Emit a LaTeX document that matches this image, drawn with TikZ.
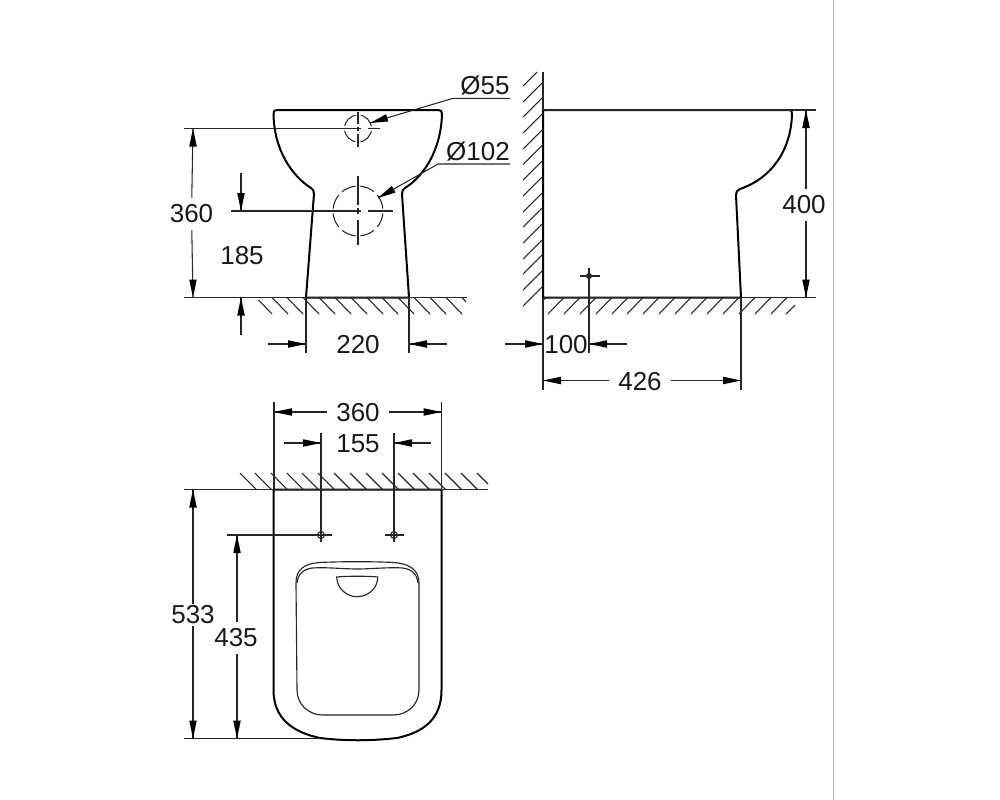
\documentclass[tikz,border=0pt]{standalone}
\usepackage{fontspec}
\setmainfont{Liberation Sans}
\tikzset{
  outline/.style={line width=1.5pt,line join=round},
  thinline/.style={line width=0.8pt,color=black!85},
  seatline/.style={line width=0.85pt,color=black!85},
  hatchline/.style={line width=0.8pt,color=black!85},
  dimtext/.style={font=\fontsize{19.5}{20}\selectfont,inner xsep=7pt,inner ysep=5pt,text=black!90},
  dimtip/.pic={\fill [black] (18,-3.8) -- (0,0) -- (18,3.8) -- cycle ;},
}
\begin{document}
\begin{tikzpicture}[x=0.75pt,y=0.75pt,yscale=-1,xscale=1]
\useasboundingbox (0,0) rectangle (1000,800);

%Page edge
\draw [color=black!30,line width=0.75pt] (833,0) -- (833,800) ;

%Front view
\draw [outline] (277,110) -- (438,110) .. controls (441,110) and (442,111) .. (442,114) .. controls (441,150) and (424,176) .. (405,188) .. controls (403,189) and (402,191) .. (402,194) -- (409,297.5) -- (306,297.5) -- (314,194) .. controls (314,191) and (313,189) .. (311,188) .. controls (292,176) and (274,150) .. (273.5,114) .. controls (273.5,111) and (274,110) .. (277,110) -- cycle ;
%Front view, drain circles
\draw [thinline,dash pattern=on 12pt off 3.9pt,dash phase=13.95pt] (358,128.5) circle (13.5) ;
\draw [thinline,dash pattern=on 11pt off 3.7pt,dash phase=12.85pt] (358,211) circle (25) ;
%Centre lines
\draw [thinline] (358,112) -- (358,124) (358,127) -- (358,131) (358,134) -- (358,147) ;
\draw [thinline] (358,176) -- (358,205) (358,208) -- (358,214) (358,220) -- (358,245) ;
\draw [thinline] (184,128.5) -- (361,128.5) (368,128.5) -- (380,128.5) ;
\draw [thinline] (231,211) -- (361,211) (368,211) -- (393,211) ;
%Front floor
\draw [thinline] (184,297.5) -- (467,297.5) ;
\draw [hatchline] (258.5,300) -- (272,314) (272,297.5) -- (288,314) (287,297.5) -- (303,314) (303,297.5) -- (319,314) (319,297.5) -- (335,314) (335,297.5) -- (351,314) (351,297.5) -- (367,314) (367,297.5) -- (383,314) (382,297.5) -- (398,314) (398,297.5) -- (414,314) (414,297.5) -- (430,314) (430,297.5) -- (446,314) (446,297.5) -- (462,314) (462,297.5) -- (466,302) ;
%Front extension lines
\draw [thinline] (306,297.5) -- (306,353) (409,297.5) -- (409,353) ;

%Side view
\draw [outline] (543,297.5) -- (543,110) -- (789,110) .. controls (791.5,110) and (792,111) .. (792,114) .. controls (791,150) and (772,178) .. (740,189) .. controls (737,190) and (736,192) .. (736,195) -- (741,297.5) -- cycle ;
%Wall
\draw [thinline] (543,72) -- (543,110) (543,297.5) -- (543,390) ;
\draw [hatchline] (523,86) -- (537,72) (523,102) -- (543,82) (523,117) -- (543,97) (523,133) -- (543,113) (523,149) -- (543,129) (523,164.5) -- (543,144.5) (523,180) -- (543,160) (523,196) -- (543,176) (523,212) -- (543,192) (523,227) -- (543,207) (523,243) -- (543,223) (523,259) -- (543,239) (523,274) -- (543,254) (523,290) -- (543,270) (523,306) -- (543,286) ;
%Side floor
\draw [thinline] (543,110) -- (816,110) (543,297.5) -- (816,297.5) ;
\draw [hatchline] (543,300) -- (547,297.5) (548,314) -- (564,297.5) (564,314) -- (580,297.5) (580,314) -- (596,297.5) (596,314) -- (612,297.5) (612,314) -- (628,297.5) (627,314) -- (643,297.5) (643,314) -- (659,297.5) (659,314) -- (675,297.5) (675,314) -- (691,297.5) (691,314) -- (707,297.5) (707,314) -- (723,297.5) (723,314) -- (739,297.5) (739,314) -- (755,297.5) (755,314) -- (771,297.5) (771,314) -- (787,297.5) (786,314) -- (795,305) ;
%Side fixing mark
\fill [black] (589,276) circle (3) ;
\draw [thinline] (580,276) -- (599.5,276) (589,268) -- (589,353) ;
\draw [thinline] (741,297.5) -- (741,390) ;

%Plan view
\draw [outline] (273.5,489.5) -- (273.5,690) .. controls (273.5,718) and (292,732) .. (320,738) .. controls (345,741) and (370,741) .. (397,738) .. controls (425,732) and (441.5,718) .. (441.5,690) -- (441.5,489.5) -- cycle ;
%Plan wall
\draw [thinline] (184,489.5) -- (488,489.5) (184,738.5) -- (320,738.5) ;
\draw [hatchline] (240,473) -- (256.5,489.5) (255,473) -- (271.5,489.5) (271,473) -- (287.5,489.5) (287,473) -- (303.5,489.5) (302,473) -- (318.5,489.5) (318,473) -- (334.5,489.5) (334,473) -- (350.5,489.5) (350,473) -- (366.5,489.5) (366,473) -- (382.5,489.5) (382,473) -- (398.5,489.5) (398,473) -- (414.5,489.5) (413,473) -- (429.5,489.5) (429,473) -- (445.5,489.5) (445,473) -- (461.5,489.5) (461,473) -- (477.5,489.5) (477,473) -- (488,484) ;
%Plan extension lines
\draw [thinline] (274,402) -- (274,489.5) (441.5,402) -- (441.5,489.5) ;
\draw [thinline] (321,433) -- (321,542) (394,433) -- (394,542) ;
\draw [thinline] (227,535) -- (331.5,535) (384.5,535) -- (404,535) ;
\draw [thinline] (321,535) circle (3.5) (394,535) circle (3.5) ;
%Seat
\draw [seatline] (296,583) .. controls (296,570) and (303,563) .. (323,562.3) .. controls (345,561.5) and (370,561.5) .. (390,562.3) .. controls (410,563) and (419,570) .. (419,583) -- (419,690) .. controls (419,704) and (408,715) .. (393,715) -- (323,715) .. controls (308,715) and (297,704) .. (297,690) -- cycle ;
\draw [seatline] (297,583) .. controls (298,574) and (303,569.5) .. (312,568) .. controls (325,567) and (345,569) .. (357,569) .. controls (370,569) and (390,567) .. (403,568) .. controls (412,569.5) and (417,574) .. (418,583) ;
\draw [seatline] (336.7,577) .. controls (345,576) and (370,576) .. (377.7,577) .. controls (378,588) and (368,596.7) .. (357.3,596.7) .. controls (346,596.7) and (337,588) .. (336.7,577) -- cycle ;

% Text Node
\node [dimtext] (diaSmall) at (485,86) {Ø55};
\node [dimtext] (diaLarge) at (478,152) {Ø102};
\node [dimtext] (frontHeight) at (191.5,214) {360};
\node [dimtext] (drainHeight) at (242,256) {185};
\node [dimtext] (frontWidth) at (358,345) {220};
\node [dimtext] (fixOffset) at (566,345) {100};
\node [dimtext] (sideDepth) at (640,382) {426};
\node [dimtext] (sideHeight) at (804,205) {400};
\node [dimtext] (planWidth) at (358,413) {360};
\node [dimtext] (fixSpacing) at (358,444) {155};
\node [dimtext,inner ysep=1.5pt] (planDepth) at (193,615) {533};
\node [dimtext] (fixDepth) at (236,638) {435};

%Leaders
\draw [thinline] (510,98.3) -- (453,98.3) -- (370,123) ;
\draw [thinline] (510,164) -- (438,164) -- (378,198) ;
\pic [rotate=16.8] at (370,123) {dimtip};
\pic [rotate=29.5] at (378,198) {dimtip};
%Dimension lines
\draw [thinline] (frontHeight) -- (193,128.5) (frontHeight) -- (193,297.5) ;
\pic [rotate=-90] at (193,128.5) {dimtip};
\pic [rotate=90] at (193,297.5) {dimtip};
\draw [thinline] (241,173) -- (241,211) (241,335) -- (241,297.5) ;
\pic [rotate=90] at (241,211) {dimtip};
\pic [rotate=-90] at (241,297.5) {dimtip};
\draw [thinline] (268,344) -- (306,344) (447,344) -- (409,344) ;
\pic [rotate=180] at (306,344) {dimtip};
\pic at (409,344) {dimtip};
\draw [thinline] (505,344) -- (543,344) (627,344) -- (589,344) ;
\pic [rotate=180] at (543,344) {dimtip};
\pic at (589,344) {dimtip};
\draw [thinline] (sideDepth.west |- 0,380.5) -- (543,380.5) (sideDepth.east |- 0,380.5) -- (741,380.5) ;
\pic at (543,380.5) {dimtip};
\pic [rotate=180] at (741,380.5) {dimtip};
\draw [thinline] (sideHeight.north -| 806,0) -- (806,110) (sideHeight.south -| 806,0) -- (806,297.5) ;
\pic [rotate=-90] at (806,110) {dimtip};
\pic [rotate=90] at (806,297.5) {dimtip};
\draw [thinline] (planWidth.west |- 0,412) -- (274,412) (planWidth.east |- 0,412) -- (441.5,412) ;
\pic at (274,412) {dimtip};
\pic [rotate=180] at (441.5,412) {dimtip};
\draw [thinline] (283.5,443) -- (321,443) (431,443) -- (394,443) ;
\pic [rotate=180] at (321,443) {dimtip};
\pic at (394,443) {dimtip};
\draw [thinline] (planDepth.north -| 193,0) -- (193,489.5) (planDepth.south -| 193,0) -- (193,738.5) ;
\pic [rotate=-90] at (193,489.5) {dimtip};
\pic [rotate=90] at (193,738.5) {dimtip};
\draw [thinline] (fixDepth.north -| 237,0) -- (237,535) (fixDepth.south -| 237,0) -- (237,738.5) ;
\pic [rotate=-90] at (237,535) {dimtip};
\pic [rotate=90] at (237,738.5) {dimtip};

\end{tikzpicture}
\end{document}
